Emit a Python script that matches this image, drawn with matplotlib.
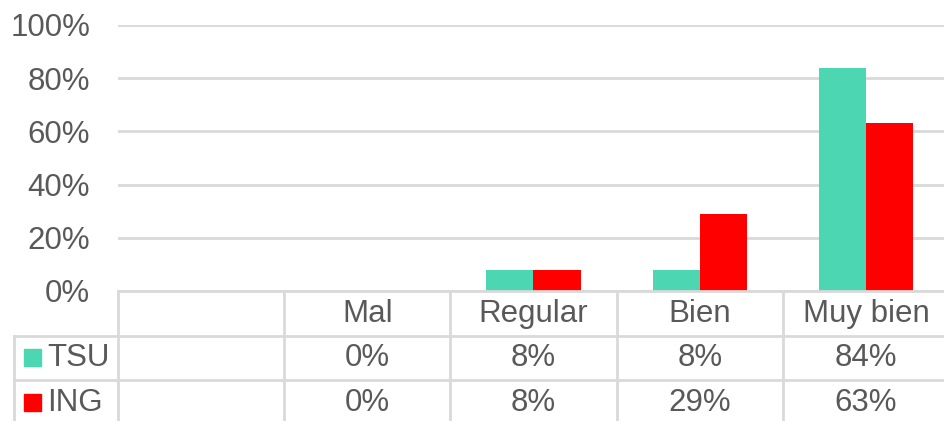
import numpy as np
import matplotlib
matplotlib.use("Agg")
import matplotlib.pyplot as plt

# Data
categories = ["", "Mal", "Regular", "Bien", "Muy bien"]
series_names = ["TSU", "ING"]
tsu = [None, 0, 8, 8, 84]
ing = [None, 0, 8, 29, 63]
y_ticks = [0, 20, 40, 60, 80, 100]

# Style
colors = ["#4CD6B1", "#FF0000"]
text_color = "#595959"
grid_color = "#D9D9D9"
font_size = 22.5
plt.rcParams['font.family'] = ['Liberation Sans', 'DejaVu Sans']

W, H = 945, 421
fig = plt.figure(figsize=(W / 100, H / 100), dpi=100)

# main chart area (pixel layout of the reference)
left, right = 118, 949
top, base = 25, 291
ax = fig.add_axes([left / W, (H - base) / H, (right - left) / W, (base - top) / H])
n = len(categories)
x = np.arange(n)
bar_w = 0.283
col_px = (right - left) / n

for i, (name, vals) in enumerate(zip(series_names, [tsu, ing])):
    xs = [xi for xi, v in zip(x, vals) if v is not None]
    hs = [v / 100 for v in vals if v is not None]
    offset = (i - 0.5) * bar_w
    ax.bar(np.array(xs) + offset, hs, width=bar_w, color=colors[i], zorder=3)

ax.set_xlim(-0.5, n - 0.5)
ax.set_ylim(0, 1)
ax.set_yticks([t / 100 for t in y_ticks])
ax.set_yticklabels(["{}%".format(t) for t in y_ticks], fontsize=font_size, color=text_color)
ax.tick_params(axis='y', length=0, pad=20)
ax.set_xticks([])
ax.grid(axis='y', color=grid_color, linewidth=2, zorder=0)
for s in ax.spines.values():
    s.set_visible(False)

# data table underneath, y in pixels from the axis line
tab = fig.add_axes([left / W, 0, (right - left) / W, (H - base) / H])
tab.set_xlim(-0.5, n - 0.5)
tab.set_ylim(H - base, 0)
tab.axis('off')

row_lines = [0, 45, 89]
row_centers = [23, 67, 112]
leg_left = -0.5 - (left - 14) / col_px

lk = dict(color=grid_color, linewidth=2, clip_on=False, zorder=1)
tab.plot([-0.5, n - 0.5], [row_lines[0]] * 2, **lk)
for yl in row_lines[1:]:
    tab.plot([leg_left, n - 0.5], [yl] * 2, **lk)
for xv in np.arange(n) - 0.5:
    tab.plot([xv, xv], [0, H - base], **lk)
tab.plot([leg_left, leg_left], [row_lines[1], H - base], **lk)

for xi, c in zip(x, categories):
    tab.text(xi, row_centers[0], c, ha='center', va='center',
             fontsize=font_size, color=text_color)

for r, (name, vals) in enumerate(zip(series_names, [tsu, ing])):
    yc = row_centers[r + 1]
    for xi, v in zip(x, vals):
        if v is None:
            continue
        tab.text(xi, yc, "{}%".format(v), ha='center', va='center',
                 fontsize=font_size, color=text_color)
    # legend key
    tab.add_patch(plt.Rectangle((leg_left + 10 / col_px, yc - 9), 17 / col_px, 17,
                                color=colors[r], clip_on=False))
    tab.text(leg_left + 33 / col_px, yc, name, ha='left', va='center',
             fontsize=font_size, color=text_color, clip_on=False)

fig.savefig("out.png", dpi=100)
